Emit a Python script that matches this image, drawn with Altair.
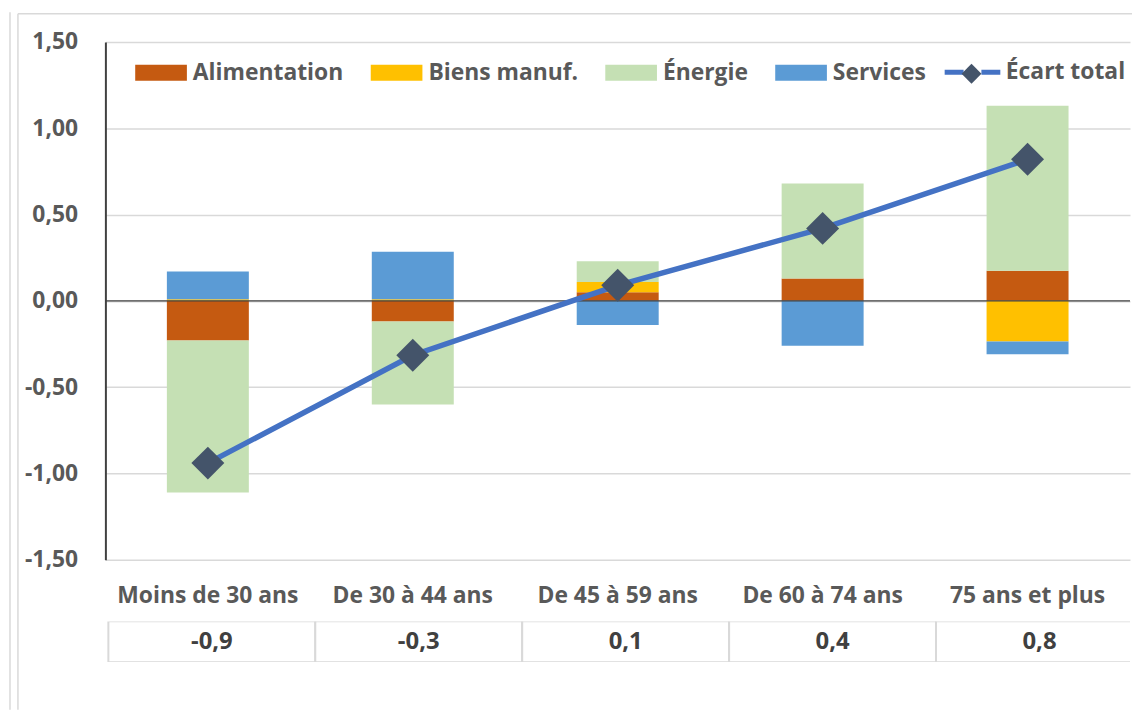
import altair as alt
import pandas as pd

categories = ["Moins de 30 ans", "De 30 à 44 ans", "De 45 à 59 ans", "De 60 à 74 ans", "75 ans et plus"]
composantes = ["Alimentation", "Biens manuf.", "Énergie", "Services"]
alimentation = [-0.23, -0.12, 0.05, 0.13, 0.175]
biens_manuf = [0.01, 0.01, 0.06, 0.0, -0.235]
energie = [-0.88, -0.48, 0.12, 0.55, 0.955]
services = [0.16, 0.275, -0.14, -0.26, -0.075]
ecart_total = [-0.94, -0.315, 0.09, 0.42, 0.82]
table_labels = ["-0,9", "-0,3", "0,1", "0,4", "0,8"]
y_ticks = [-1.5, -1.0, -0.5, 0.0, 0.5, 1.0, 1.5]
couleurs = ["#C55A11", "#FFC000", "#C5E0B4", "#5B9BD5"]
serie_ligne = "Écart total"
marqueur = "marqueur"

FONT = "Open Sans"
LABEL_COLOR = "#595959"

rows = []
for i, cat in enumerate(categories):
    for j, (comp, vals) in enumerate(zip(composantes, [alimentation, biens_manuf, energie, services])):
        rows.append({"cat": cat, "composante": comp, "valeur": vals[i], "ordre": j})
bars_df = pd.DataFrame(rows)
line_df = pd.DataFrame({"cat": categories, "total": ecart_total,
                        "serie": [serie_ligne] * len(categories),
                        "marqueur": [marqueur] * len(categories)})
table_df = pd.DataFrame({"cat": categories, "label": table_labels})
one = pd.DataFrame({"k": [0]})

W = 1031
H = 521

x_main = alt.X(
    "cat:N", sort=categories, title=None,
    scale=alt.Scale(paddingInner=0.6, paddingOuter=0.3),
    axis=alt.Axis(orient="bottom", labelAngle=0, domain=False, ticks=False, grid=False,
                  labelFont=FONT, labelFontWeight="bold", labelFontSize=23, labelLimit=400,
                  labelColor=LABEL_COLOR, labelPadding=25),
)
y_scale = alt.Scale(domain=[-1.5, 1.5], nice=False, zero=False)
y_axis = alt.Axis(values=y_ticks, title=None, ticks=False, grid=True, gridColor="#D9D9D9",
                  gridWidth=1.5, domain=True, domainColor="#404040", domainWidth=2,
                  labelFont=FONT, labelFontWeight="bold", labelFontSize=23,
                  labelColor=LABEL_COLOR, labelPadding=28, labelFlush=False,
                  labelExpr="replace(replace(format(datum.value, '.2f'), '.', ','), '\u2212', '-')")

legend_font = dict(labelFont=FONT, labelFontWeight="bold", labelFontSize=23, labelColor=LABEL_COLOR)

frame_color = "#D9D9D9"
frame1 = alt.Chart(one).mark_rule(color=frame_color, strokeWidth=1.5).encode(
    x=alt.value(-96), y=alt.value(-30), y2=alt.value(672))
frame2 = alt.Chart(one).mark_rule(color=frame_color, strokeWidth=1.5).encode(
    x=alt.value(-88), y=alt.value(-28.5), y2=alt.value(672))
frame3 = alt.Chart(one).mark_rule(color=frame_color, strokeWidth=1.5).encode(
    x=alt.value(-88), x2=alt.value(W + 2), y=alt.value(-28.5))

bars = alt.Chart(bars_df).mark_bar(strokeWidth=0).encode(
    x=x_main,
    y=alt.Y("valeur:Q", stack="zero", scale=y_scale, axis=y_axis),
    fill=alt.Fill("composante:N", sort=composantes,
                  scale=alt.Scale(domain=composantes, range=couleurs),
                  legend=alt.Legend(title=None, orient="none", legendX=30, legendY=5,
                                    direction="horizontal", columns=4, padding=0,
                                    symbolType="M-1,-0.3077H1V0.3077H-1Z", symbolSize=2704,
                                    symbolStrokeWidth=0, labelOffset=6, columnPadding=27,
                                    **legend_font)),
    order=alt.Order("ordre:Q", sort="ascending"),
)

zero = alt.Chart(one).mark_rule(color="#404040", strokeWidth=1.5).encode(y=alt.datum(0))

line = alt.Chart(line_df).mark_line(strokeWidth=5.5, strokeCap="round").encode(
    x=alt.X("cat:N", sort=categories),
    y=alt.Y("total:Q"),
    stroke=alt.Stroke("serie:N", scale=alt.Scale(domain=[serie_ligne], range=["#4472C4"]),
                      legend=alt.Legend(title=None, orient="none", legendX=842, legendY=0,
                                        padding=0, symbolType="M-1,0H-0.32M0.32,0H1",
                                        symbolSize=3136, symbolStrokeWidth=5, labelOffset=3,
                                        **legend_font)),
)

points = alt.Chart(line_df).mark_point(filled=True, opacity=1, color="#44546A", size=1100).encode(
    x=alt.X("cat:N", sort=categories),
    y=alt.Y("total:Q"),
    shape=alt.Shape("marqueur:N", scale=alt.Scale(domain=[marqueur], range=["diamond"]),
                    legend=alt.Legend(title=None, orient="none", legendX=860, legendY=20.5,
                                      padding=0, symbolType="diamond", symbolSize=400,
                                      symbolFillColor="#44546A", symbolStrokeWidth=0,
                                      symbolOpacity=1, labelOffset=21, labelExpr="''",
                                      **legend_font)),
)

main = alt.layer(frame1, frame2, frame3, bars, zero, line, points).properties(width=W, height=H)

x_table = alt.X("cat:N", sort=categories, title=None,
                scale=alt.Scale(paddingInner=0, paddingOuter=0, range=[3, W + 13]), axis=None)
cells = alt.Chart(table_df).mark_rect(fill="white", stroke="#D9D9D9", strokeWidth=2, clip=True).encode(x=x_table)
texts = alt.Chart(table_df).mark_text(font=FONT, fontWeight="bold", fontSize=24, color="#404040",
                                      clip=True).encode(x=x_table, text="label:N")
table = alt.layer(cells, texts).properties(width=W, height=41)

chart = alt.vconcat(main, table, spacing=62, bounds="flush").resolve_scale(
    x="independent"
).properties(
    padding={"left": 1, "top": 1, "right": 0, "bottom": 0}
).configure_view(strokeWidth=0)

chart.save("out.html", embed_options={"renderer": "svg", "actions": False})
